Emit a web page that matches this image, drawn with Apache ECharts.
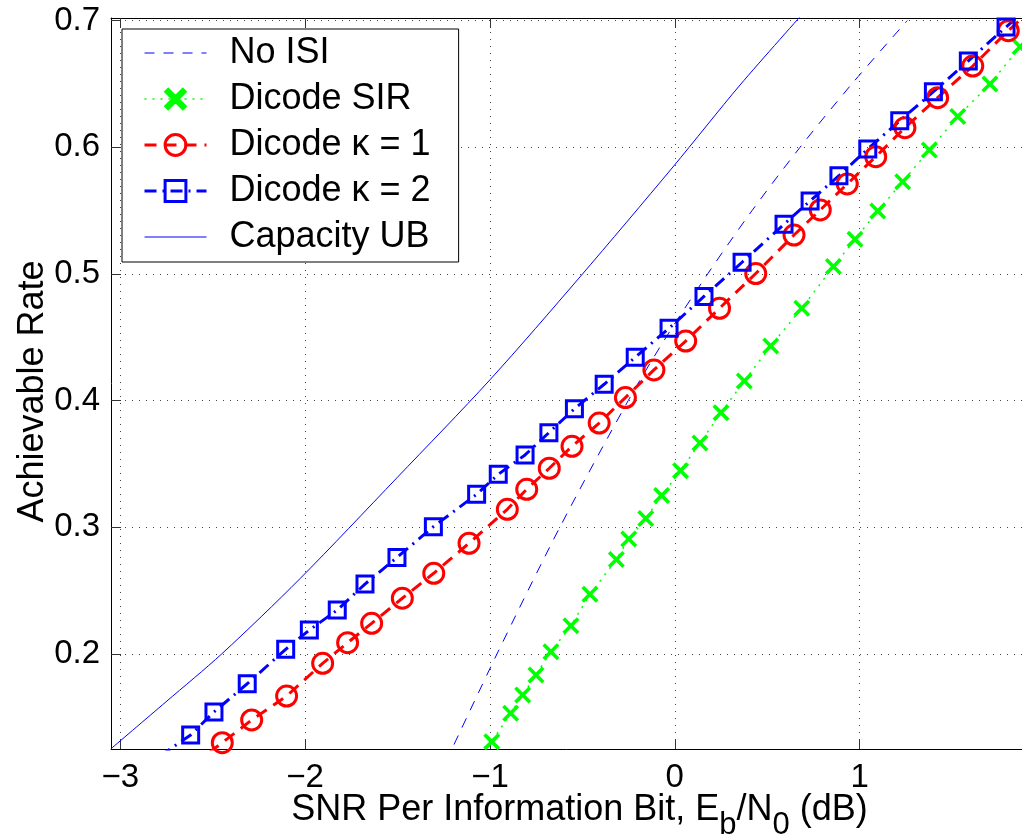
<!DOCTYPE html>
<html>
<head>
<meta charset="utf-8">
<script src="https://cdn.jsdelivr.net/npm/echarts@6/dist/echarts.min.js"></script>
<style>
  html, body { margin: 0; padding: 0; background: #fff; }
  #chart { width: 1022px; height: 838px; }
</style>
</head>
<body>
<div id="chart"></div>
<script>
// values: SNR per information bit (dB) -> achievable rate
const noIsiSnr  = [-1.238, -0.962, -0.622, -0.252, -0.047, 0.178, 0.418, 0.678, 0.958, 1.258];
const noIsiRate = [0.115, 0.200, 0.300, 0.400, 0.450, 0.500, 0.550, 0.600, 0.650, 0.700];

const sirSnr  = [-1.075, -0.990, -0.888, -0.823, -0.751, -0.670, -0.562, -0.459, -0.316, -0.249, -0.157, -0.071, 0.031, 0.136,
                 0.250, 0.376, 0.519, 0.687, 0.858, 0.975, 1.098, 1.233, 1.377, 1.531, 1.705, 1.868, 2.030];
const sirRate = [0.1100, 0.1308, 0.1532, 0.1676, 0.1834, 0.2018, 0.2223, 0.2471, 0.2746, 0.2908, 0.3069, 0.3251, 0.3447, 0.3665,
                 0.3905, 0.4155, 0.4431, 0.4729, 0.5059, 0.5273, 0.5497, 0.5728, 0.5978, 0.6243, 0.6499, 0.6793, 0.7083];

const kappa1Snr  = [-2.606, -2.448, -2.289, -2.100, -1.905, -1.770, -1.640, -1.474, -1.304, -1.113, -0.906, -0.801, -0.679, -0.556,
                    -0.409, -0.267, -0.113, 0.059, 0.242, 0.438, 0.645, 0.787, 0.933, 1.087, 1.245, 1.422, 1.612, 1.804, 2.003];
const kappa1Rate = [0.1124, 0.1300, 0.1479, 0.1668, 0.1926, 0.2089, 0.2242, 0.2440, 0.2637, 0.2874, 0.3142, 0.3300, 0.3466, 0.3639,
                    0.3823, 0.4024, 0.4242, 0.4470, 0.4729, 0.5003, 0.5307, 0.5505, 0.5710, 0.5925, 0.6154, 0.6391, 0.6641, 0.6920, 0.7186];

const kappa2Snr  = [-2.785, -2.619, -2.493, -2.313, -2.105, -1.977, -1.826, -1.676, -1.503, -1.306, -1.072, -0.955, -0.810, -0.681,
                    -0.543, -0.382, -0.214, -0.031, 0.158, 0.364, 0.591, 0.732, 0.888, 1.044, 1.217, 1.399, 1.588, 1.792, 1.987];
const kappa2Rate = [0.1195, 0.1361, 0.1542, 0.1765, 0.2037, 0.2189, 0.2347, 0.2552, 0.2762, 0.3005, 0.3260, 0.3418, 0.3571, 0.3747,
                    0.3935, 0.4129, 0.4342, 0.4571, 0.4822, 0.5092, 0.5392, 0.5576, 0.5775, 0.5986, 0.6209, 0.6438, 0.6681, 0.6949, 0.7201];

const ubSnr  = [-3.05, -2.752, -2.450, -2.028, -1.503, -1.000, -0.513, -0.010, 0.353, 0.705];
const ubRate = [0.1252, 0.1623, 0.2002, 0.2594, 0.3391, 0.4164, 0.4976, 0.5844, 0.6491, 0.7075];

const xTicks = [-3, -2, -1, 0, 1];
const yTicks = [0.2, 0.3, 0.4, 0.5, 0.6, 0.7];
const seriesNames = ['No ISI', 'Dicode SIR', 'Dicode \u03ba = 1', 'Dicode \u03ba = 2', 'Capacity UB'];

const font = 'Liberation Sans, Arial, Helvetica, sans-serif';
const pts = (xs, ys) => xs.map((x, i) => [x, ys[i]]);
// thick "x" marker like matlab's
const crossPath = 'path://M3,0L10,7L17,0L20,3L13,10L20,17L17,20L10,13L3,20L0,17L7,10L0,3Z';

const chart = echarts.init(document.getElementById('chart'), null, { renderer: 'canvas' });

chart.setOption({
    animation: false,
    backgroundColor: '#fff',
    grid: { left: 111, top: 18, width: 915, height: 731, containLabel: false, outerBoundsMode: 'none' },
    legend: {
        orient: 'vertical',
        left: 122,
        top: 29,
        backgroundColor: '#fff',
        borderColor: '#000',
        borderWidth: 1,
        borderRadius: 0,
        padding: [4, 28, 5, 21],
        itemWidth: 62,
        itemHeight: 26,
        itemGap: 6,
        textStyle: { fontSize: 36, lineHeight: 40, color: '#000', fontFamily: font, padding: [0, 0, 0, 18] },
        // lines without markers: hide the legend dot
        data: [
            { name: seriesNames[0], itemStyle: { opacity: 0 }, lineStyle: { width: 1 } },
            { name: seriesNames[1], itemStyle: { borderWidth: 2 }, lineStyle: { width: 1.5 } },
            { name: seriesNames[2], itemStyle: { borderWidth: 3 }, lineStyle: { width: 3 } },
            { name: seriesNames[3], itemStyle: { borderWidth: 3 }, lineStyle: { width: 3 } },
            { name: seriesNames[4], itemStyle: { opacity: 0 }, lineStyle: { width: 1 } }
        ]
    },
    xAxis: [{
        type: 'value',
        min: -3.05,
        max: 1.9,
        position: 'bottom',
        axisLine: { onZero: false, lineStyle: { color: '#000', width: 1 } },
        axisTick: { inside: true, length: 10, customValues: xTicks, lineStyle: { color: '#333' } },
        axisLabel: {
            customValues: xTicks,
            margin: 12,
            fontSize: 33,
            color: '#000',
            fontFamily: font,
            formatter: v => (v < 0 ? '\u2212' + Math.abs(v) : String(v))
        },
        splitLine: { show: true, lineStyle: { color: '#444', width: 1, type: [1, 6] } },
        name: 'SNR Per Information Bit, E{s|b}/N{s|0} (dB)',
        nameLocation: 'middle',
        nameGap: 41,
        nameMoveOverlap: false,
        nameTextStyle: {
            fontSize: 36, lineHeight: 40, color: '#000', fontFamily: font, padding: [0, 0, 0, 22],
            rich: { s: { fontSize: 31, lineHeight: 6, verticalAlign: 'top', padding: [20, 0, 0, 0], color: '#000', fontFamily: font } }
        }
    }, {
        // top edge of the box
        type: 'value',
        min: -3.05,
        max: 1.9,
        position: 'top',
        axisLine: { onZero: false, lineStyle: { color: '#000', width: 1 } },
        axisTick: { inside: true, length: 10, customValues: xTicks, lineStyle: { color: '#333' } },
        axisLabel: { show: false },
        splitLine: { show: false }
    }],
    yAxis: {
        type: 'value',
        min: 0.125,
        max: 0.702,
        axisLine: { onZero: false, lineStyle: { color: '#000', width: 1 } },
        axisTick: { inside: true, length: 10, customValues: yTicks, lineStyle: { color: '#333' } },
        axisLabel: {
            customValues: yTicks,
            margin: 11,
            fontSize: 33,
            color: '#000',
            fontFamily: font,
            padding: [6, 0, 0, 0],
            formatter: v => v.toFixed(1)
        },
        splitLine: { show: true, lineStyle: { color: '#444', width: 1, type: [1, 6] } },
        name: 'Achievable Rate',
        nameLocation: 'middle',
        nameGap: 60,
        nameMoveOverlap: false,
        nameTextStyle: { fontSize: 36, color: '#000', fontFamily: font, padding: [0, 16, 0, 0] }
    },
    series: [{
        name: seriesNames[0],
        type: 'line',
        data: pts(noIsiSnr, noIsiRate),
        symbol: 'none',
        smooth: 0.3,
        lineStyle: { color: '#0000ff', width: 1, type: [10, 9] },
        itemStyle: { color: '#0000ff' },
        emphasis: { disabled: true }
    }, {
        name: seriesNames[1],
        type: 'line',
        data: pts(sirSnr, sirRate),
        symbol: crossPath,
        symbolSize: 17,
        lineStyle: { color: '#00ff00', width: 1.5, type: [2, 6] },
        itemStyle: { color: '#00ff00', borderColor: '#00ff00', borderWidth: 0 },
        emphasis: { disabled: true }
    }, {
        name: seriesNames[2],
        type: 'line',
        data: pts(kappa1Snr, kappa1Rate),
        symbol: 'circle',
        symbolSize: 20,
        lineStyle: { color: '#ff0000', width: 3, type: [12, 8] },
        itemStyle: { color: 'rgba(255,0,0,0)', borderColor: '#ff0000', borderWidth: 3 },
        emphasis: { disabled: true }
    }, {
        name: seriesNames[3],
        type: 'line',
        data: pts(kappa2Snr, kappa2Rate),
        symbol: 'rect',
        symbolSize: 16,
        lineStyle: { color: '#0000ff', width: 3, type: [12, 6, 2, 6] },
        itemStyle: { color: 'rgba(0,0,255,0)', borderColor: '#0000ff', borderWidth: 3 },
        emphasis: { disabled: true }
    }, {
        name: seriesNames[4],
        type: 'line',
        data: pts(ubSnr, ubRate),
        symbol: 'none',
        smooth: 0.3,
        lineStyle: { color: '#0000ff', width: 1 },
        itemStyle: { color: '#0000ff' },
        emphasis: { disabled: true }
    }]
});
</script>
</body>
</html>
